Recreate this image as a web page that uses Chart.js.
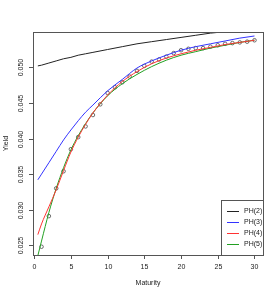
<!DOCTYPE html>
<html>
<head>
<meta charset="utf-8">
<script src="https://cdn.jsdelivr.net/npm/chart.js@4.4.1/dist/chart.umd.min.js"></script>
<style>
html,body{margin:0;padding:0;background:#fff;}
#wrap{width:280px;height:296px;}
</style>
</head>
<body>
<div id="wrap"><canvas id="c" width="280" height="296"></canvas></div>
<script>
// Observed yields
const obsMaturity = [1,2,3,4,5,6,7,8,9,10,11,12,13,14,15,16,17,18,19,20,21,22,23,24,25,26,27,28,29,30];
const obsYield = [0.0248,0.0291,0.0330,0.0354,0.0385,0.0402,0.0417,0.0433,0.0448,0.0464,0.0472,0.0479,0.0487,0.0495,0.0502,0.0508,0.0511,0.0515,0.0520,0.0524,0.0526,0.0527,0.0527,0.0529,0.0531,0.0533,0.0534,0.0535,0.0536,0.0538];

// Fitted curves
const curveMaturity = [0.5,1,2,3,4,5,6,7,8,10,12,14,16,18,20,22,24,26,28,30];
const ph2 = [0.0502,0.0503,0.0506,0.0509,0.0512,0.0514,0.0517,0.0519,0.0521,0.0525,0.0529,0.0533,0.0536,0.0539,0.0542,0.0545,0.0548,0.0550,0.0553,0.0556];
const ph3 = [0.0342,0.0350,0.0366,0.0382,0.0398,0.0412,0.0425,0.0437,0.0447,0.0467,0.0483,0.0499,0.0509,0.0517,0.0524,0.0529,0.0533,0.0537,0.0541,0.0544];
const ph4 = [0.0265,0.0280,0.0304,0.0328,0.0355,0.0381,0.0402,0.0420,0.0436,0.0461,0.0480,0.0494,0.0505,0.0513,0.0519,0.0524,0.0528,0.0532,0.0535,0.0538];
const ph5 = [0.02355,0.0256,0.0296,0.0330,0.0359,0.0384,0.0404,0.0421,0.0436,0.0460,0.0477,0.0490,0.0501,0.0510,0.0517,0.0522,0.0527,0.0531,0.0535,0.0538];

const seriesLabels = ['PH(2)','PH(3)','PH(4)','PH(5)'];
const seriesColors = ['#222222','#3333ff','#ff3333','#22a022'];

const xTicks = [0,5,10,15,20,25,30];
const yTicks = [0.025,0.030,0.035,0.040,0.045,0.050];
const yTickLabels = ['0.025','0.030','0.035','0.040','0.045','0.050'];

function pts(xs, ys){ return xs.map((x,i)=>({x:x,y:ys[i]})); }

const curves = [ph2,ph3,ph4,ph5];
const datasets = curves.map((c,i)=>({
  label: seriesLabels[i],
  data: pts(curveMaturity, c),
  showLine: true,
  borderColor: seriesColors[i],
  backgroundColor: seriesColors[i],
  borderWidth: 1,
  pointRadius: 0,
  cubicInterpolationMode: 'monotone',
  fill: false
}));
datasets.push({
  label: 'obs',
  data: pts(obsMaturity, obsYield),
  showLine: false,
  pointStyle: 'circle',
  pointRadius: 1.8,
  borderColor: '#333',
  backgroundColor: 'rgba(0,0,0,0)',
  pointBorderWidth: 0.7
});

const FONT = '7px "Liberation Sans", Arial, sans-serif';

const decor = {
  id: 'decor',
  afterDraw(chart){
    const ctx = chart.ctx;
    const a = chart.chartArea;
    const xs = chart.scales.x, ys = chart.scales.y;
    ctx.save();
    ctx.strokeStyle = '#555';
    ctx.lineWidth = 1;
    ctx.strokeRect(Math.round(a.left)+0.5, Math.round(a.top)+0.5, Math.round(a.right-a.left), Math.round(a.bottom-a.top));
    ctx.fillStyle = '#222';
    ctx.font = FONT;
    // x ticks
    ctx.textAlign = 'center';
    ctx.textBaseline = 'middle';
    xTicks.forEach(v=>{
      const px = Math.round(xs.getPixelForValue(v))+0.5;
      ctx.beginPath();
      ctx.moveTo(px, a.bottom); ctx.lineTo(px, a.bottom+4);
      ctx.stroke();
      ctx.fillText(String(v), px, a.bottom+12);
    });
    // y ticks
    yTicks.forEach((v,i)=>{
      const py = Math.round(ys.getPixelForValue(v))+0.5;
      ctx.beginPath();
      ctx.moveTo(a.left, py); ctx.lineTo(a.left-4, py);
      ctx.stroke();
      ctx.save();
      ctx.translate(a.left-12, py);
      ctx.rotate(-Math.PI/2);
      ctx.fillText(yTickLabels[i], 0, 0);
      ctx.restore();
    });
    // axis titles
    ctx.fillText('Maturity', (a.left+a.right)/2, a.bottom+28);
    ctx.save();
    ctx.translate(6, (a.top+a.bottom)/2);
    ctx.rotate(-Math.PI/2);
    ctx.fillText('Yield', 0, 0);
    ctx.restore();
    // legend
    const lx = 221.5, ly = 200.5, lw = Math.round(a.right) - 221, lh = Math.round(a.bottom) - 200;
    ctx.fillStyle = '#fff';
    ctx.fillRect(lx, ly, lw, lh);
    ctx.strokeStyle = '#555';
    ctx.strokeRect(lx, ly, lw, lh);
    ctx.textAlign = 'left';
    seriesLabels.forEach((lab,i)=>{
      const y = 211 + i*11;
      ctx.strokeStyle = seriesColors[i];
      ctx.beginPath();
      ctx.moveTo(227, y+0.5); ctx.lineTo(239, y+0.5);
      ctx.stroke();
      ctx.fillStyle = '#222';
      ctx.fillText(lab, 244, y+0.5);
    });
    ctx.restore();
  }
};

new Chart(document.getElementById('c'), {
  type: 'scatter',
  data: { datasets },
  options: {
    responsive: false,
    animation: false,
    layout: { padding: { left: 33, right: 17, top: 32, bottom: 41 } },
    plugins: { legend: { display: false }, tooltip: { enabled: false } },
    scales: {
      x: { type: 'linear', min: -0.16, max: 31.16, display: false },
      y: { type: 'linear', min: 0.02364, max: 0.05496, display: false }
    }
  },
  plugins: [decor]
});
</script>
</body>
</html>
